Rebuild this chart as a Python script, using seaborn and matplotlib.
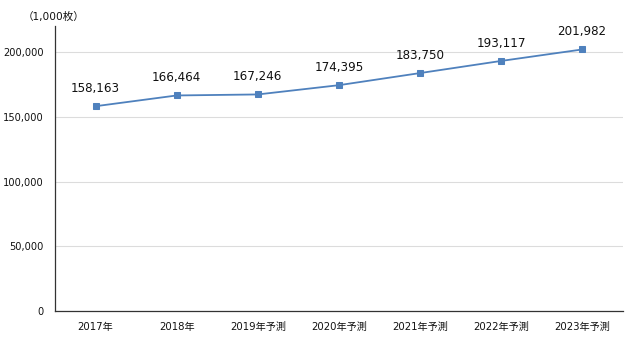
import matplotlib
matplotlib.use("Agg")
import matplotlib.pyplot as plt
import seaborn as sns
import pandas as pd
from matplotlib.ticker import FuncFormatter, FixedLocator

categories = ["2017年", "2018年", "2019年予測", "2020年予測", "2021年予測", "2022年予測", "2023年予測"]
values = [158163, 166464, 167246, 174395, 183750, 193117, 201982]
unit_label = "（1,000枚）"

sns.set_theme(style="white")
plt.rcParams["font.family"] = ["DejaVu Sans", "Noto Sans CJK JP"]

df = pd.DataFrame({"pos": range(len(categories)), "value": values})

fig = plt.figure(figsize=(6.4, 3.44), dpi=100)
ax = fig.add_axes([0.086, 0.096, 0.887, 0.828])

line_color = "#4f81bd"
sns.lineplot(data=df, x="pos", y="value", ax=ax, color=line_color, linewidth=1.3,
             marker="s", markersize=3.8, markeredgecolor=line_color)

text_color = "#111111"
for x, v in zip(df["pos"], df["value"]):
    ax.annotate(f"{v:,}", (x, v), xytext=(0, 8), textcoords="offset points",
                ha="center", va="bottom", fontsize=8.6, color=text_color)

ax.set_xlim(-0.5, len(categories) - 0.5)
ax.set_ylim(0, 220000)
ax.yaxis.set_major_locator(FixedLocator([0, 50000, 100000, 150000, 200000]))
ax.yaxis.set_major_formatter(FuncFormatter(lambda v, _: f"{int(v):,}"))
ax.grid(axis="y", color="#dcdcdc", linewidth=0.8)
ax.set_axisbelow(True)

# category boundaries carry tick marks, names sit between them
ax.set_xticks([i - 0.5 for i in range(len(categories) + 1)])
ax.set_xticklabels([])
ax.set_xticks(range(len(categories)), minor=True)
ax.set_xticklabels(categories, minor=True)
ax.tick_params(axis="x", which="major", direction="out", length=4, width=0.8, color="#333333")
ax.tick_params(axis="x", which="minor", length=0, pad=8, labelsize=7.3, labelcolor=text_color)
ax.tick_params(axis="y", direction="out", length=4, width=0.8, color="#333333",
               labelsize=7.1, labelcolor=text_color, pad=4)

ax.set_xlabel("")
ax.set_ylabel("")
for side in ["top", "right"]:
    ax.spines[side].set_visible(False)
for side in ["left", "bottom"]:
    ax.spines[side].set_color("#333333")
    ax.spines[side].set_linewidth(0.9)

fig.text(0.036, 0.95, unit_label, fontsize=7.6, color=text_color, va="center", ha="left")

fig.savefig("out.png", dpi=100)
